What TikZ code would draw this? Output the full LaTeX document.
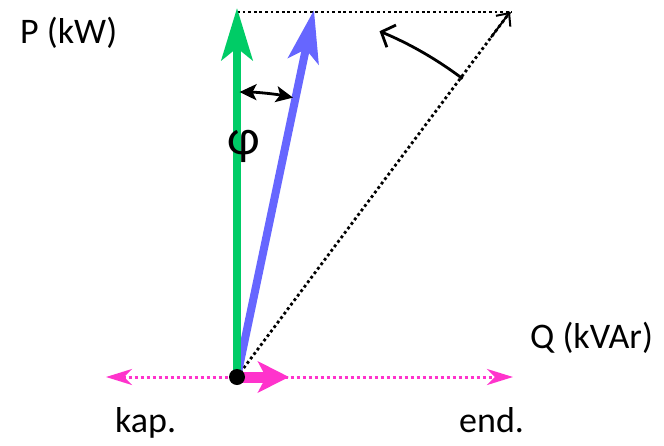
\documentclass[tikz,border=0pt]{standalone}
\usepackage{fontspec}
\setmainfont{Carlito}
\usetikzlibrary{arrows.meta,calc}
\definecolor{pgreen}{HTML}{00CC66}
\definecolor{pblue}{HTML}{6666FF}
\definecolor{pmag}{HTML}{FF33CC}
\begin{document}
\begin{tikzpicture}[x=1pt,y=-1pt,
  lbl/.style={font=\fontsize{36}{40}\selectfont, inner sep=0pt, anchor=base west},
  bigvec/.style={line width=8pt, -{Stealth[length=52pt,width=31pt,inset=12pt]}},
  dotline/.style={line width=2.8pt, dash pattern=on 2.8pt off 2.8pt}]
\useasboundingbox (0,0) rectangle (664,445);
\coordinate (O) at (237,377);
\coordinate (Pt) at (237,8);
\coordinate (St) at (314,10);
\coordinate (Tl) at (237,12);
\coordinate (Tr) at (512,12);
\coordinate (Dt) at (510,12);
\coordinate (Ml) at (106,377);
\coordinate (Mr) at (513,377);
\coordinate (Qt) at (289,377);
% magenta axis
\draw[pmag, line width=3pt, dash pattern=on 3pt off 3pt,
  {Stealth[length=26pt,width=16pt,inset=8pt]}-{Stealth[length=26pt,width=16pt,inset=8pt]}] (Ml) -- (Mr);
% dotted lines
\draw[dotline] (Tl) -- (Tr);
\draw[dotline] (O) -- (Dt);
\draw[line width=2pt, -{Straight Barb[length=10pt,width=18pt,line width=2pt]}] ($(O)!0.93!(Dt)$) -- (Dt);
% curved arrow
\draw[line width=2.8pt, -{Straight Barb[length=11pt,width=24pt,line width=2.8pt]}] (O) ++(-52.9:374) arc[start angle=-52.9, end angle=-67.6, radius=374];
% vectors
\draw[pblue, bigvec] (O) -- (St);
\draw[pgreen, bigvec] (O) -- (Pt);
\draw[pmag, line width=11pt, -{Stealth[length=31pt,width=31pt,inset=8pt]}] (O) -- (Qt);
\fill (O) circle[radius=8];
% phi arc
\draw[line width=2.8pt, {Stealth[length=17pt,width=16pt,inset=4pt]}-{Stealth[length=17pt,width=16pt,inset=4pt]}] (O) ++(-89.5:285) arc[start angle=-89.5, end angle=-78.6, radius=283];
% labels
\node[lbl] (P) at (20,43) {P (kW)};
\node[lbl] (Q) at (530,348) {Q (kVAr)};
\node[lbl] (kap) at (115,432) {kap.};
\node[lbl] (end) at (459,432) {end.};
\node[lbl, font=\fontsize{50}{56}\selectfont] (phi) at (227,154) {φ};
\end{tikzpicture}
\end{document}
